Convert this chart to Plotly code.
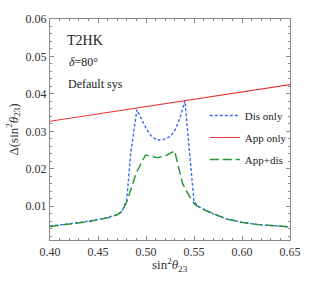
import plotly.graph_objects as go

# Data
x_dis = [0.40, 0.42, 0.43, 0.44, 0.45, 0.46, 0.47, 0.475, 0.48, 0.484, 0.4905,
         0.495, 0.50, 0.505, 0.511, 0.518, 0.525, 0.530, 0.535, 0.5405,
         0.543, 0.5465, 0.550, 0.555, 0.561, 0.57, 0.584, 0.60, 0.617, 0.65]
y_dis = [0.0047, 0.0053, 0.0057, 0.0060, 0.0065, 0.0070, 0.0078, 0.0087, 0.0118, 0.0240, 0.0358,
         0.0332, 0.0308, 0.0289, 0.0277, 0.0278, 0.0286, 0.0302, 0.0333, 0.0382,
         0.0310, 0.0195, 0.0112, 0.0099, 0.0091, 0.0080, 0.0066, 0.0057, 0.0051, 0.0045]

x_app = [0.40, 0.45, 0.50, 0.55, 0.60, 0.65]
y_app = [0.0327, 0.0347, 0.0366, 0.0386, 0.0405, 0.0425]

x_both = [0.40, 0.42, 0.43, 0.44, 0.45, 0.46, 0.47, 0.475, 0.48, 0.485, 0.49, 0.4995,
          0.505, 0.512, 0.52, 0.5298, 0.535, 0.538, 0.545, 0.551, 0.561, 0.57,
          0.584, 0.60, 0.617, 0.65]
y_both = [0.0046, 0.0052, 0.0056, 0.0059, 0.0064, 0.0069, 0.0077, 0.0086, 0.0112, 0.0152, 0.0190, 0.0237,
          0.0233, 0.0230, 0.0234, 0.0248, 0.0190, 0.0161, 0.0128, 0.0104, 0.0090, 0.0080,
          0.0066, 0.0057, 0.0051, 0.0045]

names = ["Dis only", "App only", "App+dis"]
colors = ["#3b6cf5", "#e53a3a", "#23922f"]

serif = "Liberation Serif, Times New Roman, serif"

fig = go.Figure()
fig.add_trace(go.Scatter(x=x_dis, y=y_dis, mode="lines", name=names[0], legendgroup="a",
                         line=dict(color=colors[0], width=1.4, dash="3px,2px")))
fig.add_trace(go.Scatter(x=x_app, y=y_app, mode="lines", name=names[1], legendgroup="b",
                         line=dict(color=colors[1], width=1.2)))
fig.add_trace(go.Scatter(x=x_both, y=y_both, mode="lines", name=names[2], legendgroup="c",
                         line=dict(color=colors[2], width=1.4, dash="9px,4px")))

axis_common = dict(
    showline=True, linecolor="#888888", linewidth=1, mirror="ticks",
    ticks="inside", ticklen=4, tickcolor="#888888", tickwidth=1,
    showgrid=False, zeroline=False,
    tickfont=dict(family=serif, size=12, color="#333333"),
)

fig.update_xaxes(range=[0.40, 0.65], tickvals=[0.40, 0.45, 0.50, 0.55, 0.60, 0.65],
                 ticktext=["0.40", "0.45", "0.50", "0.55", "0.60", "0.65"],
                 minor=dict(dtick=0.01, tick0=0.40, ticks="inside", ticklen=2, tickcolor="#888888"),
                 ticklabelstandoff=1,
                 **axis_common)
fig.update_yaxes(range=[0.001, 0.06], tickvals=[0.01, 0.02, 0.03, 0.04, 0.05, 0.06],
                 ticktext=["0.01", "0.02", "0.03", "0.04", "0.05", "0.06"],
                 minor=dict(dtick=0.002, tick0=0.0, ticks="inside", ticklen=2, tickcolor="#888888"),
                 title=dict(text="Δ(sin<sup>2</sup><i>θ</i><sub>23</sub>)",
                            font=dict(family=serif, size=13, color="#333333"), standoff=4),
                 **axis_common)

# x-axis title as paper annotation (placed closer to tick labels, like the reference)
fig.add_annotation(x=0.499, y=-0.112, xref="paper", yref="paper", xanchor="center", yanchor="middle",
                   text="sin<sup>2</sup><i>θ</i><sub>23</sub>", showarrow=False,
                   font=dict(family=serif, size=13, color="#333333"))

fig.add_annotation(x=0.064, y=0.902, xref="paper", yref="paper", xanchor="left", yanchor="middle",
                   text="T2HK", showarrow=False, font=dict(family=serif, size=14, color="#222222"))
fig.add_annotation(x=0.072, y=0.805, xref="paper", yref="paper", xanchor="left", yanchor="middle",
                   text="<i>δ</i>=80°", showarrow=False, font=dict(family=serif, size=12, color="#222222"))
fig.add_annotation(x=0.068, y=0.704, xref="paper", yref="paper", xanchor="left", yanchor="middle",
                   text="Default sys", showarrow=False, font=dict(family=serif, size=12, color="#222222"))

fig.update_layout(
    width=313, height=281,
    margin=dict(l=47, r=13, t=13, b=41),
    paper_bgcolor="white", plot_bgcolor="white",
    showlegend=True,
    legend=dict(x=0.645, y=0.629, xanchor="left", yanchor="top", bgcolor="rgba(0,0,0,0)",
                font=dict(family=serif, size=11, color="#222222"), itemwidth=30,
                tracegroupgap=3),
)

fig.write_html("out.html", config={"displayModeBar": False},
               post_script="document.body.style.margin='0';")
